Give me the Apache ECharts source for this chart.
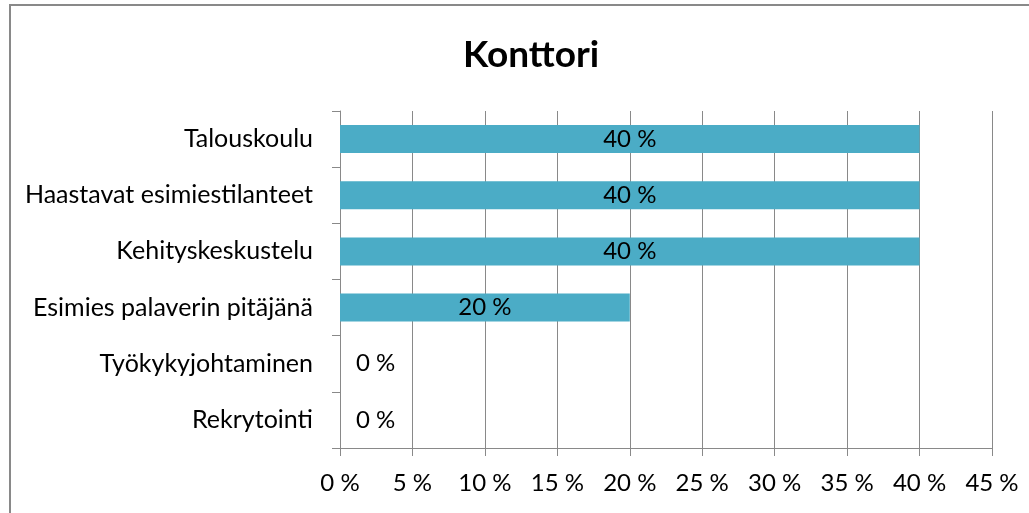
<!DOCTYPE html>
<html>
<head>
<meta charset="utf-8">
<script src="https://cdn.jsdelivr.net/npm/echarts@6/dist/echarts.min.js"></script>
<style>
  html, body { margin: 0; padding: 0; background: #fff; }
  #chart { width: 1029px; height: 513px; }
</style>
</head>
<body>
<div id="chart"></div>
<script>
const chartTitle = 'Konttori'
const categories = [
  'Talouskoulu',
  'Haastavat esimiestilanteet',
  'Kehityskeskustelu',
  'Esimies palaverin pitäjänä',
  'Työkykyjohtaminen',
  'Rekrytointi'
]
const shares = [40, 40, 40, 20, 0, 0]
const xTicks = [0, 5, 10, 15, 20, 25, 30, 35, 40, 45]

const font = 'Lato'
const gray = '#898989'

const chart = echarts.init(document.getElementById('chart'))

// zero-width bars get their label just right of the axis, like Excel does
const barData = shares.map(v => v === 0
  ? { value: v, label: { position: 'right', distance: 16 } }
  : v)

chart.setOption({
  animation: false,
  title: {
    text: chartTitle,
    left: 458,
    top: 32,
    textStyle: {
      fontFamily: font,
      fontWeight: 'bold',
      fontSize: 37,
      color: '#000'
    }
  },
  graphic: [{
    type: 'rect',
    shape: { x: 10, y: 5, width: 1100, height: 600 },
    style: { fill: 'none', stroke: gray, lineWidth: 2 },
    silent: true
  }],
  grid: {
    left: 340,
    right: 37,
    top: 111,
    bottom: 65
  },
  xAxis: {
    type: 'value',
    min: xTicks[0],
    max: xTicks[xTicks.length - 1],
    interval: 5,
    axisLine: { show: true, lineStyle: { color: gray, width: 1 } },
    axisTick: { show: true, length: 8, lineStyle: { color: gray } },
    splitLine: { show: true, lineStyle: { color: gray, width: 1 } },
    axisLabel: {
      margin: 23,
      color: '#000',
      fontFamily: font,
      fontSize: 24,
      formatter: v => v + ' %'
    }
  },
  yAxis: {
    type: 'category',
    data: categories,
    inverse: true,
    axisLine: { show: true, lineStyle: { color: gray, width: 1 } },
    axisTick: { show: true, length: 8, lineStyle: { color: gray } },
    splitLine: { show: false },
    axisLabel: {
      margin: 27,
      color: '#000',
      fontFamily: font,
      fontSize: 25
    }
  },
  series: [{
    type: 'bar',
    data: barData,
    barWidth: 28,
    itemStyle: { color: '#4bacc6' },
    label: {
      show: true,
      position: 'inside',
      color: '#000',
      fontFamily: font,
      fontSize: 24,
      formatter: p => p.value + ' %'
    }
  }]
})
</script>
</body>
</html>
